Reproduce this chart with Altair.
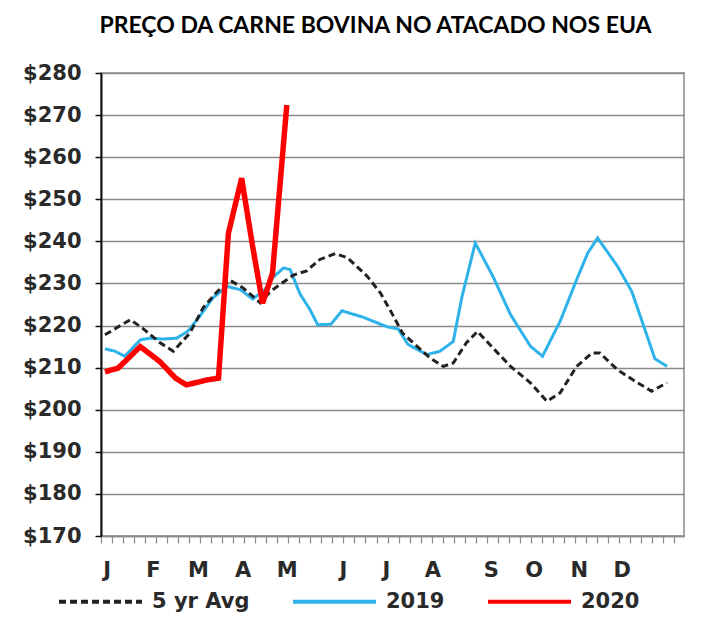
import altair as alt
import pandas as pd

# ---- data ----
MONTHS = ["J", "F", "M", "A", "M", "J", "J", "A", "S", "O", "N", "D"]
MONTH_POS = [1.16, 5.36, 9.44, 13.5, 17.5, 22.6, 26.5, 30.7, 36.0, 39.9, 44.0, 47.9]

SERIES = ["5 yr Avg", "2019", "2020"]

AVG_WEEK = [1.0, 3.3, 4.4, 6.0, 7.2, 8.7, 9.9, 11.2, 12.3, 13.5, 15.1, 16.0, 17.5, 18.1,
            19.3, 20.5, 21.9, 23.0, 24.8, 26.0, 27.1, 28.0, 29.3, 30.5, 31.7, 32.6, 33.8,
            34.8, 36.2, 37.8, 39.6, 41.1, 42.3, 43.8, 45.2, 45.9, 47.5, 48.9, 50.6, 52.0]
AVG_VALUE = [217.8, 221.4, 219.4, 215.9, 213.9, 218.2, 224.2, 228.1, 230.8, 229.0, 225.4,
             228.1, 230.9, 232.0, 233.0, 235.7, 237.1, 236.1, 231.7, 227.7, 222.6, 218.2,
             215.1, 212.3, 210.3, 211.1, 215.9, 218.6, 214.7, 210.3, 206.4, 202.0, 204.0,
             210.3, 213.5, 213.5, 209.5, 207.1, 204.4, 206.4]

Y2019_WEEK = [1.0, 1.9, 2.8, 4.2, 5.1, 6.3, 7.5, 8.5, 9.6, 10.8, 12.1, 13.3, 14.4, 15.5,
              16.2, 17.2, 17.8, 18.7, 19.6, 20.3, 21.5, 22.5, 24.4, 26.6, 27.6, 28.5, 30.2,
              31.4, 32.6, 33.4, 34.6, 36.2, 37.8, 39.6, 40.7, 42.3, 43.8, 44.8, 45.7, 47.5,
              48.8, 50.0, 50.9, 52.0]
Y2019_VALUE = [214.5, 213.9, 212.7, 216.6, 217.0, 216.8, 217.0, 218.6, 222.2, 226.6, 229.3,
               228.5, 226.3, 228.5, 231.3, 233.7, 233.3, 227.5, 223.8, 220.2, 220.3, 223.5,
               222.0, 219.7, 219.2, 215.5, 213.1, 213.9, 216.2, 226.9, 239.6, 231.7, 222.6,
               215.1, 212.7, 221.0, 230.9, 237.2, 240.8, 234.1, 228.1, 219.0, 212.1, 210.3]

Y2020_WEEK = [1.0, 2.2, 4.2, 6.0, 7.4, 8.4, 10.3, 11.3, 12.2, 13.4, 14.4, 15.3, 16.2, 17.5]
Y2020_VALUE = [209.0, 209.9, 215.0, 211.4, 207.5, 205.9, 207.1, 207.5, 241.9, 255.0, 238.8,
               225.3, 232.4, 272.4]

Y_TICKS = list(range(170, 281, 10))

# ---- table ----
rows = []
for w, v in zip(Y2019_WEEK, Y2019_VALUE):
    rows.append({"series": "2019", "week": w, "value": v})
for w, v in zip(AVG_WEEK, AVG_VALUE):
    rows.append({"series": "5 yr Avg", "week": w, "value": v})
for w, v in zip(Y2020_WEEK, Y2020_VALUE):
    rows.append({"series": "2020", "week": w, "value": v})
df = pd.DataFrame(rows)

X_MIN, X_MAX = 0.64, 53.54
FONT = "DejaVu Sans"
LABEL_SIZE = 21
LABEL_WEIGHT = "bold"
LABEL_COLOR = "#2a2a2a"
COLORS = ["#222222", "#2db3ea", "#ff0000"]
DASHES = [[7, 4], [1, 0], [1, 0]]
WIDTHS = {"5 yr Avg": 3, "2019": 3, "2020": 5.5}

xscale = alt.Scale(domain=[X_MIN, X_MAX], nice=False, zero=False)
yscale = alt.Scale(domain=[170, 280], nice=False, zero=False)

yaxis = alt.Axis(
    values=Y_TICKS, labelExpr="'$' + datum.value", title=None,
    domainColor="#111111", domainWidth=2, tickColor="#111111", tickSize=6, tickWidth=1.5,
    gridColor="#8a8a8a", gridWidth=1.5, labelFont=FONT, labelFontSize=LABEL_SIZE,
    labelFontWeight=LABEL_WEIGHT, labelColor=LABEL_COLOR, labelPadding=14,
)

tick_values = [round(X_MIN + k, 2) for k in range(53)]
tick_axis = alt.Axis(
    orient="bottom", values=tick_values, labels=False, title=None, grid=False,
    domainColor="#8a8a8a", domainWidth=1.5, tickColor="#8a8a8a", tickSize=7, tickWidth=1.2,
)

label_expr = ""
for p, m in zip(MONTH_POS, MONTHS):
    label_expr += f"abs(datum.value - {p}) < 0.01 ? '{m}' : "
label_expr += "''"
month_axis = alt.Axis(
    orient="bottom", values=MONTH_POS, labelExpr=label_expr, title=None, grid=False,
    domain=False, ticks=False, tickSize=0, labelFont=FONT, labelFontSize=LABEL_SIZE,
    labelFontWeight=LABEL_WEIGHT, labelColor=LABEL_COLOR, labelPadding=23,
    labelFlush=False, labelOverlap=False,
)


def series_layer(name):
    return alt.Chart(df).transform_filter(alt.datum.series == name).mark_line(
        strokeWidth=WIDTHS[name]
    ).encode(
        x=alt.X("week:Q", scale=xscale, axis=tick_axis),
        y=alt.Y("value:Q", scale=yscale, axis=yaxis),
        color=alt.Color("series:N", scale=alt.Scale(domain=SERIES, range=COLORS), title=None),
        strokeDash=alt.StrokeDash("series:N", scale=alt.Scale(domain=SERIES, range=DASHES), title=None),
    )


months = alt.Chart(df).mark_point(opacity=0).encode(
    x=alt.X("week:Q", scale=xscale, axis=month_axis),
    y=alt.Y("value:Q", scale=yscale, axis=yaxis),
)

lines = alt.layer(series_layer("2019"), series_layer("5 yr Avg"), series_layer("2020"))

chart = alt.layer(lines, months).resolve_axis(x="independent").properties(
    width=583, height=463,
    autosize=alt.AutoSizeParams(type="none"),
    padding={"left": 93, "top": 65, "right": 11, "bottom": 90},
    title=alt.TitleParams(
        "PREÇO DA CARNE BOVINA NO ATACADO NOS EUA", font="Lato", fontSize=23,
        fontWeight="bold", color="#000000", anchor="middle", dx=-17, offset=24,
    ),
).configure_view(stroke="#8a8a8a", strokeWidth=1.5).configure_legend(
    orient="none", legendX=-44, legendY=485, direction="horizontal",
    symbolType="stroke", symbolSize=6889, symbolStrokeWidth=4, labelFont=FONT,
    labelFontSize=LABEL_SIZE, labelFontWeight=LABEL_WEIGHT, labelColor=LABEL_COLOR,
    labelOffset=8, columnPadding=35,
)

chart.save("out.html", embed_options={"renderer": "svg", "actions": False})
